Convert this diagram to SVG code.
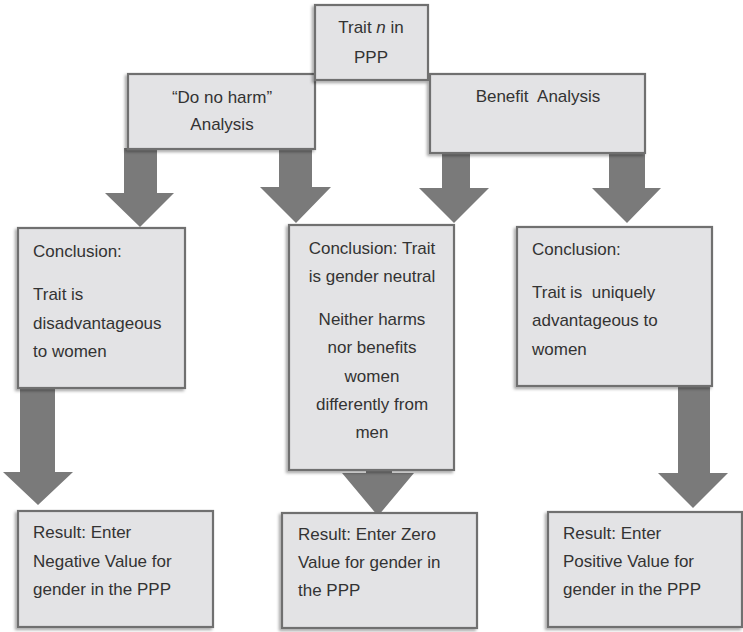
<svg xmlns="http://www.w3.org/2000/svg" width="743" height="632" viewBox="0 0 743 632">
<style>
  .box { fill: #e3e3e5; stroke: #6f6f6f; stroke-width: 2.2; filter: url(#sh); }
  .arr { fill: #7a7a7a; }
  text { font-family: "Liberation Sans", Arial, sans-serif; font-size: 17px; fill: #333333; }
  .c { text-anchor: middle; }
</style>
<defs>
  <filter id="sh" x="-10%" y="-10%" width="120%" height="120%">
    <feDropShadow dx="-2" dy="2" stdDeviation="1.5" flood-color="#000" flood-opacity="0.35"/>
  </filter>
</defs>
<rect width="743" height="632" fill="#ffffff"/>

<g id="connectors">
  <polygon class="arr" points="124,148 157,148 157,193 174,193 140,227 105,193 124,193"/>
  <polygon class="arr" points="279,148 312,148 312,187 331,187 296,223 260,187 279,187"/>
  <polygon class="arr" points="442,152 470,152 470,188 489,188 454,223 419,188 442,188"/>
  <polygon class="arr" points="609,152 645,152 645,188 661,188 627,223 592,188 609,188"/>
  <polygon class="arr" points="20,387 55,387 55,472 73,472 38,505 3,472 20,472"/>
  <polygon class="arr" points="366,465 392,465 392,473 414,473 378,516 342,473 366,473"/>
  <polygon class="arr" points="678,385 710,385 710,473 728,473 693,508 658,473 678,473"/>
</g>

<g id="do-no-harm">
  <rect class="box" x="128" y="74" width="187" height="75"/>
  <text class="c" x="222" y="103">“Do no harm”</text>
  <text class="c" x="222" y="130">Analysis</text>
</g>

<g id="benefit">
  <rect class="box" x="430" y="74" width="215" height="79"/>
  <text class="c" x="538" y="102" xml:space="preserve">Benefit  Analysis</text>
</g>

<g id="trait">
  <rect class="box" x="315" y="5" width="113" height="75"/>
  <text class="c" x="371" y="33">Trait <tspan font-style="italic">n</tspan> in</text>
  <text class="c" x="371" y="63">PPP</text>
</g>

<g id="conclusion-neg">
  <rect class="box" x="18" y="228" width="167" height="160"/>
  <text x="33" y="257">Conclusion:</text>
  <text x="33" y="300">Trait is</text>
  <text x="33" y="329">disadvantageous</text>
  <text x="33" y="357">to women</text>
</g>

<g id="conclusion-neutral">
  <rect class="box" x="289" y="225" width="165" height="245"/>
  <text class="c" x="372" y="254">Conclusion: Trait</text>
  <text class="c" x="372" y="282">is gender neutral</text>
  <text class="c" x="372" y="325">Neither harms</text>
  <text class="c" x="372" y="353">nor benefits</text>
  <text class="c" x="372" y="382">women</text>
  <text class="c" x="372" y="410">differently from</text>
  <text class="c" x="372" y="438">men</text>
</g>

<g id="conclusion-pos">
  <rect class="box" x="517" y="227" width="195" height="159"/>
  <text x="532" y="255">Conclusion:</text>
  <text x="532" y="298" xml:space="preserve">Trait is  uniquely</text>
  <text x="532" y="326">advantageous to</text>
  <text x="532" y="355">women</text>
</g>

<g id="result-neg">
  <rect class="box" x="18" y="511" width="195" height="116"/>
  <text x="33" y="538">Result: Enter</text>
  <text x="33" y="567">Negative Value for</text>
  <text x="33" y="595">gender in the PPP</text>
</g>

<g id="result-zero">
  <rect class="box" x="282" y="513" width="195" height="115"/>
  <text x="298" y="540">Result: Enter Zero</text>
  <text x="298" y="568">Value for gender in</text>
  <text x="298" y="596">the PPP</text>
</g>

<g id="result-pos">
  <rect class="box" x="548" y="512" width="194" height="115"/>
  <text x="563" y="539">Result: Enter</text>
  <text x="563" y="567">Positive Value for</text>
  <text x="563" y="595">gender in the PPP</text>
</g>
</svg>
